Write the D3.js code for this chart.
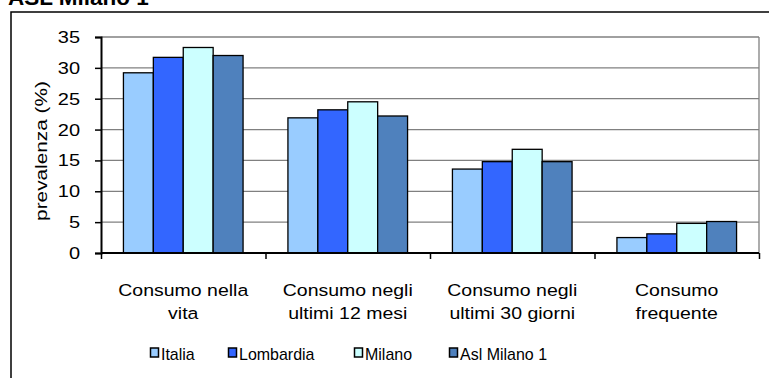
<!DOCTYPE html>
<html>
<head>
<meta charset="utf-8">
<script src="https://cdn.jsdelivr.net/npm/d3@7"></script>
<style>
  body { margin: 0; background: #fff; }
  svg { display: block; font-family: Arial, "Liberation Sans", sans-serif; }
</style>
</head>
<body>
<svg id="chart" width="769" height="378"></svg>
<script>
// categories and series
const categories = [
    ['Consumo nella', 'vita'],
    ['Consumo negli', 'ultimi 12 mesi'],
    ['Consumo negli', 'ultimi 30 giorni'],
    ['Consumo', 'frequente']
];
const seriesNames = ['Italia', 'Lombardia', 'Milano', 'Asl Milano 1'];
const seriesColors = ['#99ccff', '#3366ff', '#ccffff', '#4f81bd'];
const italia = [29.2, 21.9, 13.6, 2.5];
const lombardia = [31.7, 23.2, 14.8, 3.1];
const milano = [33.3, 24.5, 16.8, 4.8];
const aslMilano1 = [32.0, 22.2, 14.8, 5.1];
const yTicks = [0, 5, 10, 15, 20, 25, 30, 35];

const values = [italia, lombardia, milano, aslMilano1];

const svg = d3.select('#chart');
const x0 = 101, x1 = 759, yTop = 37, yBottom = 253;
// text in the original is a bit squashed vertically
const squash = 0.86;

// outer chart border (cut by the window on right and bottom)
svg.append('rect')
    .attr('x', 11).attr('y', 12)
    .attr('width', 800).attr('height', 400)
    .attr('fill', 'none').attr('stroke', '#000').attr('stroke-width', 1.5);

// title, mostly cut off above the window
svg.append('text')
    .attr('x', 8).attr('y', 5)
    .style('font-size', '22.5px').style('font-weight', 'bold')
    .text('ASL Milano 1');

const x = d3.scaleBand()
    .domain(d3.range(categories.length))
    .range([x0, x1]);
// Excel gap 150%: 4 bars plus 0.75 bar of gap on each side
const barW = x.bandwidth() / 5.5;
const y = d3.scaleLinear().domain([0, 35]).range([yBottom, yTop]);

// grid lines
svg.append('g')
    .selectAll('line')
    .data(yTicks.filter(d => d > 0))
    .join('line')
    .attr('x1', x0).attr('x2', x1)
    .attr('y1', d => y(d)).attr('y2', d => y(d))
    .attr('stroke', '#808080').attr('stroke-width', 1.3);

// plot area right border
svg.append('line')
    .attr('x1', x1).attr('x2', x1)
    .attr('y1', yTop).attr('y2', yBottom)
    .attr('stroke', '#808080').attr('stroke-width', 1.3);

// bars
const groups = svg.append('g')
    .selectAll('g')
    .data(categories)
    .join('g')
    .attr('transform', (d, i) => `translate(${x(i)},0)`);

groups.selectAll('rect')
    .data((d, i) => values.map((s, j) => ({s: j, v: s[i]})))
    .join('rect')
    .attr('x', d => 0.75 * barW + d.s * barW)
    .attr('width', barW)
    .attr('y', d => y(d.v))
    .attr('height', d => yBottom - y(d.v))
    .attr('fill', d => seriesColors[d.s])
    .attr('stroke', '#000').attr('stroke-width', 1.3);

// y axis
const yAxis = svg.append('g')
    .attr('transform', `translate(${x0},0)`)
    .call(d3.axisLeft(y).tickValues(yTicks).tickSize(6).tickPadding(15).tickFormat(d3.format('d')));
yAxis.select('.domain').attr('stroke', '#000').attr('stroke-width', 2);
yAxis.selectAll('.tick line').attr('stroke', '#000').attr('stroke-width', 1.5);
yAxis.selectAll('.tick text')
    .style('font-size', '20px').attr('fill', '#000')
    .attr('font-family', 'Arial, "Liberation Sans", sans-serif')
    .attr('transform', `scale(1,${squash})`);

// x axis
const xAxisScale = d3.scaleLinear().domain([0, categories.length]).range([x0, x1]);
const xAxis = svg.append('g')
    .attr('transform', `translate(0,${yBottom})`)
    .call(d3.axisBottom(xAxisScale).tickValues(d3.range(categories.length + 1)).tickSize(6).tickFormat(''));
xAxis.select('.domain').attr('stroke', '#000').attr('stroke-width', 2).attr('d', `M${x0},0H${x1}`);
xAxis.selectAll('.tick line').attr('stroke', '#000').attr('stroke-width', 1.5);

// category labels
svg.append('g')
    .selectAll('text')
    .data(categories)
    .join('text')
    .attr('text-anchor', 'middle')
    .style('font-size', '19.5px')
    .attr('transform', (d, i) => `translate(${x(i) + x.bandwidth() / 2},296) scale(1,${squash})`)
    .selectAll('tspan')
    .data(d => d)
    .join('tspan')
    .attr('x', 0)
    .attr('dy', (d, i) => i === 0 ? 0 : 23 / squash)
    .text(d => d);

// y label
svg.append('text')
    .attr('transform', 'translate(47,151) rotate(-90) scale(1.3,1)')
    .attr('text-anchor', 'middle')
    .style('font-size', '16px')
    .text('prevalenza  (%)');

// legend
const legendX = [150, 228, 354, 449];
const legend = svg.append('g')
    .selectAll('g')
    .data(seriesNames)
    .join('g')
    .attr('transform', (d, i) => `translate(${legendX[i]},360)`);
legend.append('rect')
    .attr('x', 0.5).attr('y', -12)
    .attr('width', 8).attr('height', 9)
    .attr('fill', (d, i) => seriesColors[i])
    .attr('stroke', '#000').attr('stroke-width', 1.5);
legend.append('text')
    .attr('x', 11).attr('y', 0)
    .style('font-size', '16px')
    .attr('transform', 'scale(1,1.06)')
    .text(d => d);
</script>
</body>
</html>
